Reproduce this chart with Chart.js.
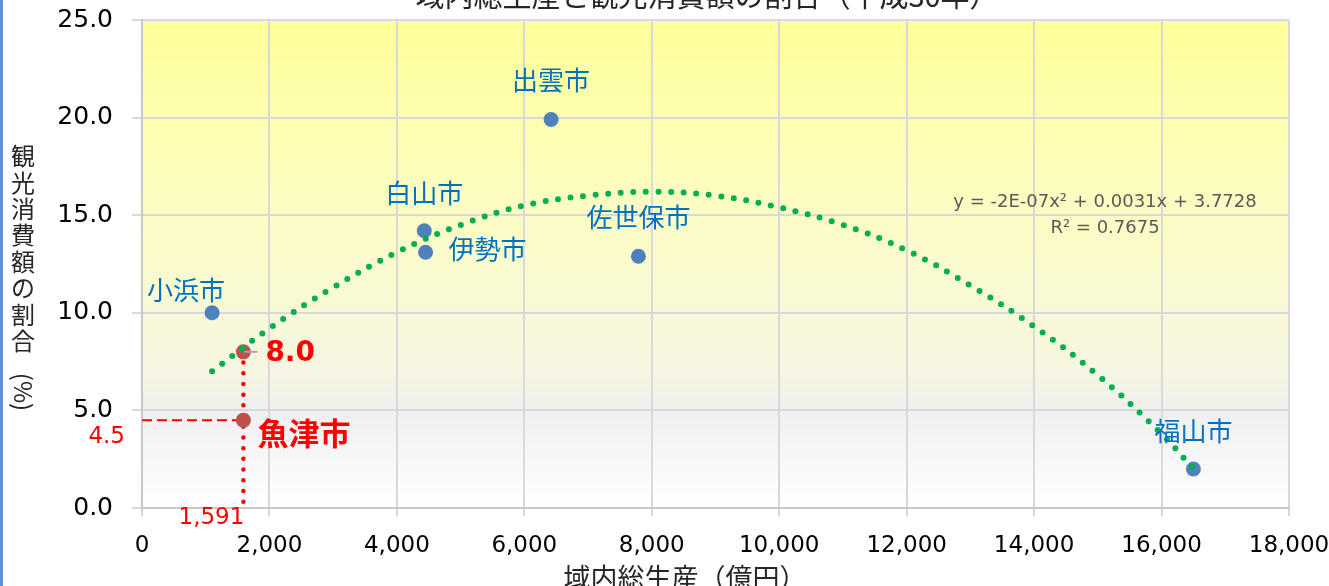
<!DOCTYPE html>
<html>
<head>
<meta charset="utf-8">
<script src="https://cdn.jsdelivr.net/npm/chart.js@4.4.1/dist/chart.umd.min.js"></script>
<style>
  html, body { margin: 0; padding: 0; background: #fff; }
  #wrap { position: relative; width: 1329px; height: 586px; }
</style>
</head>
<body>
<div id="wrap"><canvas id="gdpChart" width="1329" height="586"></canvas></div>
<script>
// cities: 域内総生産 (億円) vs 観光消費額の割合 (%)
const cityNames = ["小浜市", "白山市", "伊勢市", "出雲市", "佐世保市", "福山市"];
const cityGdp = [1100, 4430, 4450, 6420, 7790, 16500];
const cityShare = [10.0, 14.2, 13.1, 19.9, 12.9, 2.0];

// 魚津市 (actual and value on the trendline)
const uozuName = "魚津市";
const uozuGdp = 1591;
const uozuShare = 4.5;
const uozuTrend = 8.0;

// polynomial trendline
const trendGdp = [1100, 2000, 3000, 4000, 5000, 6000, 7000, 8000, 9000, 10000, 11000, 12000, 13000, 14000, 15000, 16000, 16500];
const trendShare = [7.0, 9.2, 11.3, 13.1, 14.5, 15.5, 16.0, 16.2, 16.0, 15.4, 14.5, 13.2, 11.4, 9.3, 6.8, 3.8, 2.0];
const trendText = ["y = -2E-07x\u00b2 + 0.0031x + 3.7728", "R\u00b2 = 0.7675"];

// axes
const xMin = 0, xMax = 18000, xStep = 2000;
const yMin = 0, yMax = 25, yStep = 5;

const chartTitle = "域内総生産と観光消費額の割合（平成30年）";
const xTitle = "域内総生産（億円）";
const yTitleChars = ["観", "光", "消", "費", "額", "の", "割", "合"];
const yTitleTail = "(%)";

const CJK = "'Noto Sans CJK JP', 'Noto Sans', sans-serif";
const NUM = "'DejaVu Sans', sans-serif";

function pairs(xs, ys) {
  return xs.map((x, i) => ({ x: x, y: ys[i] }));
}

// gradient background of the plot area
const plotBackground = {
  id: "plotBackground",
  beforeDraw(chart) {
    const { ctx, chartArea: a } = chart;
    const g = ctx.createLinearGradient(0, a.top, 0, a.bottom);
    g.addColorStop(0, "#ffff99");
    g.addColorStop(0.35, "#fdfdc0");
    g.addColorStop(0.72, "#f6f6e2");
    g.addColorStop(0.80, "#efefef");
    g.addColorStop(1, "#ffffff");
    ctx.save();
    ctx.fillStyle = g;
    ctx.fillRect(a.left, a.top, a.right - a.left, a.bottom - a.top);
    // blue frame edge on the left
    ctx.fillStyle = "#5f8fd6";
    ctx.fillRect(0, 0, 3, chart.height);
    ctx.restore();
  }
};

// all text labels
const textLabels = {
  id: "textLabels",
  afterDraw(chart) {
    const { ctx, chartArea: a } = chart;
    const xs = chart.scales.x, ys = chart.scales.y;
    ctx.save();
    ctx.textBaseline = "middle";

    // titles
    ctx.fillStyle = "#262626";
    ctx.textAlign = "center";
    ctx.font = "29px " + CJK;
    ctx.fillText(chartTitle, 707, -4);
    ctx.font = "27px " + CJK;
    ctx.fillText(xTitle, 685, 578);

    // vertical y title
    ctx.font = "24px " + CJK;
    yTitleChars.forEach((c, i) => ctx.fillText(c, 23, 156 + i * 26.4));
    ctx.save();
    ctx.translate(23, 392);
    ctx.rotate(Math.PI / 2);
    ctx.fillText(yTitleTail, 0, 0);
    ctx.restore();

    // city labels
    const offsets = {
      "小浜市": [-26, -23, "center"],
      "白山市": [0, -38, "center"],
      "伊勢市": [23, -3, "left"],
      "出雲市": [0, -39, "center"],
      "佐世保市": [0, -39, "center"],
      "福山市": [0, -38, "center"]
    };
    ctx.font = "26px " + CJK;
    ctx.fillStyle = "#0070c0";
    cityNames.forEach((name, i) => {
      const px = xs.getPixelForValue(cityGdp[i]);
      const py = ys.getPixelForValue(cityShare[i]);
      const o = offsets[name];
      ctx.textAlign = o[2];
      ctx.fillText(name, px + o[0], py + o[1]);
    });

    // 魚津市 labels
    const ux = xs.getPixelForValue(uozuGdp);
    const uy = ys.getPixelForValue(uozuShare);
    const ty = ys.getPixelForValue(uozuTrend);
    ctx.strokeStyle = "#a6a6a6";
    ctx.lineWidth = 2;
    ctx.beginPath();
    ctx.moveTo(ux + 1, ty);
    ctx.lineTo(ux + 14, ty);
    ctx.stroke();

    ctx.fillStyle = "#ff0000";
    ctx.textAlign = "left";
    ctx.font = "bold 28px " + NUM;
    ctx.fillText(uozuTrend.toFixed(1), ux + 22, ty + 2);
    ctx.font = "bold 31px " + CJK;
    ctx.fillText(uozuName, ux + 14, uy + 13);
    ctx.font = "23px " + NUM;
    ctx.textAlign = "right";
    ctx.fillText(uozuShare.toFixed(1), a.left - 17, uy + 17);
    ctx.fillText(uozuGdp.toLocaleString("en-US"), ux + 1, a.bottom + 10);

    // trendline equation
    ctx.font = "18px " + NUM;
    ctx.fillStyle = "#595959";
    ctx.textAlign = "center";
    ctx.fillText(trendText[0], 1105, 202);
    ctx.fillText(trendText[1], 1105, 228);
    ctx.restore();
  }
};

const ctx = document.getElementById("gdpChart").getContext("2d");
const chart = new Chart(ctx, {
  type: "scatter",
  data: {
    datasets: [
      {
        label: "trend",
        data: pairs(trendGdp, trendShare),
        showLine: true,
        tension: 0.4,
        borderColor: "#00b050",
        borderWidth: 6,
        borderDash: [0, 12.6],
        borderCapStyle: "round",
        pointRadius: 0
      },
      {
        label: uozuName,
        data: pairs([uozuGdp, uozuGdp], [uozuTrend, uozuShare]),
        backgroundColor: "#c0504d",
        borderWidth: 0,
        pointRadius: 7.5
      },
      {
        label: "cities",
        data: pairs(cityGdp, cityShare),
        backgroundColor: "#4f81bd",
        borderWidth: 0,
        pointRadius: 7.5
      },
      {
        label: "drop",
        data: pairs([uozuGdp, uozuGdp], [uozuTrend, yMin]),
        showLine: true,
        borderColor: "#ff0000",
        borderWidth: 4.5,
        borderDash: [0, 10.7],
        borderCapStyle: "round",
        pointRadius: 0
      },
      {
        label: "across",
        data: pairs([xMin, uozuGdp], [uozuShare, uozuShare]),
        showLine: true,
        borderColor: "#ff0000",
        borderWidth: 2,
        borderDash: [10, 5],
        pointRadius: 0,
        clip: false
      }
    ]
  },
  options: {
    responsive: false,
    animation: false,
    layout: { padding: { left: 0, right: 40, top: 20, bottom: 0 } },
    plugins: {
      legend: { display: false },
      tooltip: { enabled: false }
    },
    scales: {
      x: {
        type: "linear",
        min: xMin,
        max: xMax,
        ticks: {
          stepSize: xStep,
          color: "#000",
          font: { family: NUM, size: 23 },
          padding: 16,
          maxRotation: 0,
          callback: v => v.toLocaleString("en-US")
        },
        grid: { color: "#d9d9d9", lineWidth: 2, tickLength: 8 },
        border: { color: "#c8c8c8", width: 2 },
        afterFit: s => { s.height = 78; s.paddingLeft = 0; s.paddingRight = 0; }
      },
      y: {
        min: yMin,
        max: yMax,
        ticks: {
          stepSize: yStep,
          color: "#000",
          font: { family: NUM, size: 25 },
          padding: 19,
          callback: v => v.toFixed(1)
        },
        grid: { color: "#d9d9d9", lineWidth: 2, tickLength: 10 },
        border: { color: "#c8c8c8", width: 2 },
        afterFit: s => { s.width = 142; s.paddingTop = 0; s.paddingBottom = 0; }
      }
    }
  },
  plugins: [plotBackground, textLabels]
});
</script>
</body>
</html>
